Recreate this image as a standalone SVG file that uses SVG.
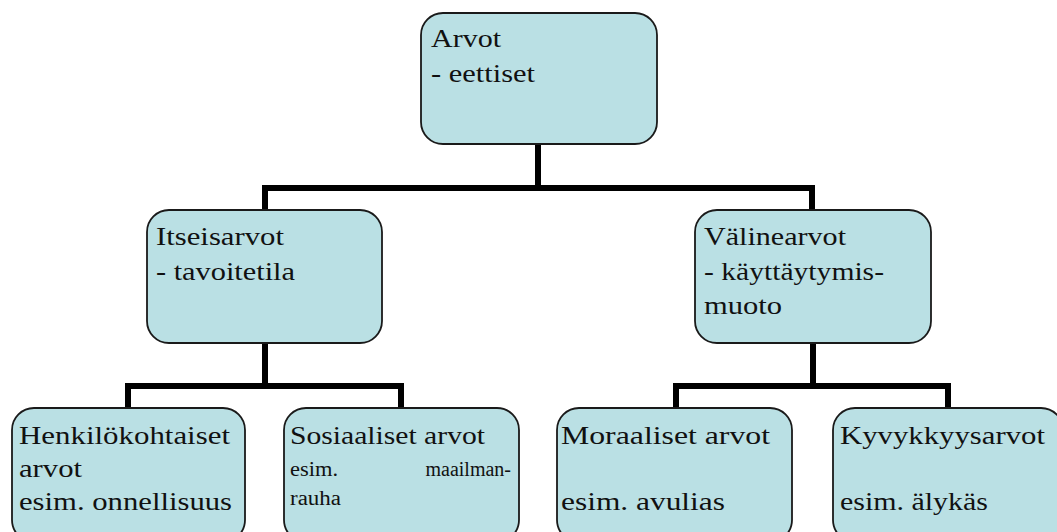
<svg xmlns="http://www.w3.org/2000/svg" width="1057" height="532" viewBox="0 0 1057 532">
  <style>
    .box { fill: #BAE0E4; stroke: #1a1a1a; stroke-width: 1.8; }
    .wire { fill: none; stroke: #000; stroke-width: 6; stroke-linejoin: miter; stroke-linecap: square; }
    .lbl { font-size: 26px; fill: #111; }
    .small { font-size: 20px; }
  </style>
  <rect width="1057" height="532" fill="#fff"/>

  <!-- tree connectors -->
  <g id="connectors">
    <path class="wire" d="M538 144 V188"/>
    <path class="wire" d="M265 210 V188 H812 V210"/>
    <path class="wire" d="M265 343 V386"/>
    <path class="wire" d="M128 408 V386 H401 V408"/>
    <path class="wire" d="M813 343 V386"/>
    <path class="wire" d="M676 408 V386 H948 V408"/>
  </g>

  <g font-family="Liberation Serif, DejaVu Serif, Times New Roman, serif">
  <g id="arvot">
    <rect class="box" x="421" y="13" width="236" height="131" rx="22"/>
    <text class="lbl" x="431" y="47" textLength="70" lengthAdjust="spacingAndGlyphs">Arvot</text>
    <text class="lbl" x="431" y="82" textLength="104" lengthAdjust="spacingAndGlyphs">- eettiset</text>
  </g>

  <g id="itseisarvot">
    <rect class="box" x="147" y="210" width="235" height="133" rx="22"/>
    <text class="lbl" x="156" y="245" textLength="128" lengthAdjust="spacingAndGlyphs">Itseisarvot</text>
    <text class="lbl" x="156" y="280" textLength="139" lengthAdjust="spacingAndGlyphs">- tavoitetila</text>
  </g>

  <g id="valinearvot">
    <rect class="box" x="695" y="210" width="236" height="133" rx="22"/>
    <text class="lbl" x="704" y="245" textLength="142" lengthAdjust="spacingAndGlyphs">Välinearvot</text>
    <text class="lbl" x="704" y="280" textLength="180" lengthAdjust="spacingAndGlyphs">- käyttäytymis-</text>
    <text class="lbl" x="704" y="314" textLength="78" lengthAdjust="spacingAndGlyphs">muoto</text>
  </g>

  <g id="henkilokohtaiset">
    <rect class="box" x="12" y="408" width="233" height="134" rx="22"/>
    <text class="lbl" x="19" y="444" textLength="211" lengthAdjust="spacingAndGlyphs">Henkilökohtaiset</text>
    <text class="lbl" x="19" y="477" textLength="63" lengthAdjust="spacingAndGlyphs">arvot</text>
    <text class="lbl" x="19" y="510" textLength="213" lengthAdjust="spacingAndGlyphs">esim. onnellisuus</text>
  </g>

  <g id="sosiaaliset">
    <rect class="box" x="284" y="408" width="235" height="134" rx="22"/>
    <text class="lbl" x="290" y="444" textLength="195" lengthAdjust="spacingAndGlyphs">Sosiaaliset arvot</text>
    <text class="lbl small" x="290" y="476" textLength="48" lengthAdjust="spacingAndGlyphs">esim.</text>
    <text class="lbl small" x="511" y="476" text-anchor="end">maailman-</text>
    <text class="lbl small" x="290" y="505" textLength="51" lengthAdjust="spacingAndGlyphs">rauha</text>
  </g>

  <g id="moraaliset">
    <rect class="box" x="557" y="408" width="235" height="134" rx="22"/>
    <text class="lbl" x="561" y="444" textLength="209" lengthAdjust="spacingAndGlyphs">Moraaliset arvot</text>
    <text class="lbl" x="561" y="510" textLength="164" lengthAdjust="spacingAndGlyphs">esim. avulias</text>
  </g>

  <g id="kyvykkyysarvot">
    <rect class="box" x="833" y="408" width="230" height="134" rx="22"/>
    <text class="lbl" x="840" y="444" textLength="205" lengthAdjust="spacingAndGlyphs">Kyvykkyysarvot</text>
    <text class="lbl" x="840" y="510" textLength="148" lengthAdjust="spacingAndGlyphs">esim. älykäs</text>
  </g>
  </g>
</svg>
